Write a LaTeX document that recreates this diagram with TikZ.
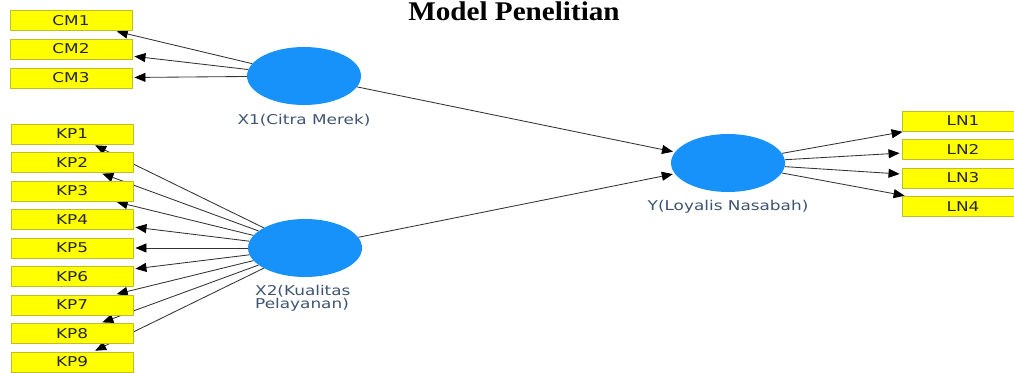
\documentclass[tikz,border=0pt]{standalone}
\usepackage{fontspec}
\newfontfamily\plsfont[FakeStretch=1.25]{DejaVu Sans}
\newfontfamily\titlefont[FakeStretch=1.08]{Liberation Serif}
\usetikzlibrary{arrows.meta, shapes.geometric}
\definecolor{plsblue}{RGB}{22,146,250}
\definecolor{plsyellow}{RGB}{255,255,0}
\definecolor{plsolive}{RGB}{190,190,40}
\definecolor{plslabel}{RGB}{62,84,112}
\pgfdeclarelayer{bg}
\pgfsetlayers{bg,main}

\begin{document}
\begin{tikzpicture}[
    x=1pt, y=-1pt,
    indic/.style={rectangle, draw=plsolive, fill=plsyellow, line width=0.9pt,
                  minimum width=122pt, minimum height=20pt, inner sep=0pt,
                  text=black!85, font=\plsfont\fontsize{13.5}{15}\selectfont},
    latent/.style={ellipse, fill=plsblue, minimum width=114pt,
                   minimum height=58pt, inner sep=0pt},
    lvlabel/.style={text=plslabel, inner sep=0pt,
                    font=\plsfont\fontsize{13.5}{12}\selectfont},
    arrow/.style={-{Triangle[length=11pt, width=9pt, color=black]},
                  draw=black!80, line width=0.85pt, shorten >=2pt}
]
  \clip (0,0) rectangle (1014,372);

  % judul
  \node[font=\titlefont\bfseries\fontsize{27}{30}\selectfont, anchor=base,
        inner sep=0pt] (judul) at (514,20) {Model Penelitian};

  % variabel laten
  \node[latent] (x1) at (304,76) {};
  \node[latent] (x2) at (305,248) {};
  \node[latent] (y) at (728,163) {};

  \node[lvlabel] (lx1) at (304,120.5) {X1(Citra Merek)};
  \node[lvlabel, anchor=west, align=left] (lx2) at (255,298) {X2(Kualitas\\Pelayanan)};
  \node[lvlabel] (ly) at (728,207) {Y(Loyalis Nasabah)};

  % indikator citra merek
  \node[indic] (cm1) at (71,20.5) {CM1};
  \node[indic] (cm2) at (71,49) {CM2};
  \node[indic] (cm3) at (71,78) {CM3};

  % indikator kualitas pelayanan
  \node[indic] (kp1) at (72,134) {KP1};
  \node[indic] (kp2) at (72,162.5) {KP2};
  \node[indic] (kp3) at (72,191) {KP3};
  \node[indic] (kp4) at (72,219.5) {KP4};
  \node[indic] (kp5) at (72,248) {KP5};
  \node[indic] (kp6) at (72,276.5) {KP6};
  \node[indic] (kp7) at (72,305) {KP7};
  \node[indic] (kp8) at (72,333.5) {KP8};
  \node[indic] (kp9) at (72,362) {KP9};

  % indikator loyalitas
  \node[indic] (ln1) at (963,121) {LN1};
  \node[indic] (ln2) at (963,149.5) {LN2};
  \node[indic] (ln3) at (963,178) {LN3};
  \node[indic] (ln4) at (963,206.5) {LN4};

  \begin{pgfonlayer}{bg}
    \draw[arrow] (x1) -- (cm1);
    \draw[arrow] (x1) -- (cm2);
    \draw[arrow] (x1) -- (cm3);

    \draw[arrow] (x2) -- (kp1);
    \draw[arrow] (x2) -- (kp2);
    \draw[arrow] (x2) -- (kp3);
    \draw[arrow] (x2) -- (kp4);
    \draw[arrow] (x2) -- (kp5);
    \draw[arrow] (x2) -- (kp6);
    \draw[arrow] (x2) -- (kp7);
    \draw[arrow] (x2) -- (kp8);
    \draw[arrow] (x2) -- (kp9);

    \draw[arrow] (x1) -- (y);
    \draw[arrow] (x2) -- (y);

    \draw[arrow] (y) -- (ln1);
    \draw[arrow] (y) -- (ln2);
    \draw[arrow] (y) -- (ln3);
    \draw[arrow] (y) -- (ln4);
  \end{pgfonlayer}
\end{tikzpicture}
\end{document}
